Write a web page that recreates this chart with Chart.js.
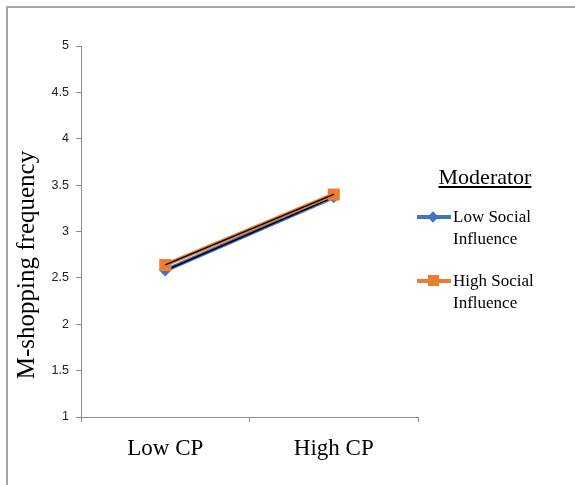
<!DOCTYPE html>
<html>
<head>
<meta charset="utf-8">
<script src="https://cdn.jsdelivr.net/npm/chart.js@4.4.1/dist/chart.umd.min.js"></script>
<style>
  html, body { margin: 0; padding: 0; background: #fff; }
  #wrap { position: relative; width: 575px; height: 485px; overflow: hidden; }
  #frame { position: absolute; left: 6px; top: 6px; width: 600px; height: 500px;
           border-top: 2px solid #a6a6a6; border-left: 2px solid #a6a6a6; }
  #chart { position: absolute; left: 0; top: 0; }
  #legend { position: absolute; left: 415px; top: 164px; width: 160px;
            font-family: "Liberation Serif", "Times New Roman", serif; color: #000; }
  #legend .title { font-size: 22px; text-decoration: underline; text-align: center;
                   width: 140px; margin-left: 0; }
  #legend .swatch { position: absolute; left: 2px; width: 34px; height: 4px; top: 9px; }
  #legend .mark { position: absolute; }
  #legend .txt { position: absolute; left: 38px; top: 0; font-size: 17px; line-height: 22px; }
</style>
</head>
<body>
<div id="wrap">
  <div id="frame"></div>
  <canvas id="chart" width="575" height="485"></canvas>
  <div id="legend"></div>
</div>
<script>
const categories = ["Low CP", "High CP"];
const lowSocial = [2.58, 3.37];
const highSocial = [2.64, 3.40];
const seriesNames = [["Low Social", "Influence"], ["High Social", "Influence"]];
const legendTitle = "Moderator";
const yTitle = "M-shopping frequency";

const blue = "#4472C4";
const orange = "#ED7D31";

// legend in html
const legend = document.getElementById("legend");
legend.innerHTML = '<div class="title">' + legendTitle + '</div>';
const tops = [42, 106];
[[blue, "diamond"], [orange, "square"]].forEach(function (s, i) {
  const item = document.createElement("div");
  item.style.position = "absolute";
  item.style.top = tops[i] + "px";
  item.style.left = "0px";
  item.style.width = "160px";
  let markStyle = "background:" + s[0] + ";";
  if (s[1] === "diamond") markStyle += "transform:rotate(45deg);width:8px;height:8px;left:14px;top:7px;";
  else markStyle += "width:11px;height:11px;left:13px;top:5px;";
  item.innerHTML = '<div class="swatch" style="background:' + s[0] + '"></div>' +
    '<div class="mark" style="' + markStyle + '"></div>' +
    '<div class="txt">' + seriesNames[i].join("<br>") + '</div>';
  legend.appendChild(item);
});

const yTitlePlugin = {
  id: "yTitle",
  afterDraw(chart) {
    const ctx = chart.ctx;
    ctx.save();
    ctx.translate(27, 265);
    ctx.rotate(-Math.PI / 2);
    ctx.font = '25px "Liberation Serif", serif';
    ctx.fillStyle = "#000";
    ctx.textAlign = "center";
    ctx.textBaseline = "middle";
    ctx.fillText(yTitle, 0, 0);
    ctx.restore();
  }
};

new Chart(document.getElementById("chart"), {
  type: "line",
  data: {
    labels: categories,
    datasets: [
      { data: lowSocial, borderColor: blue, backgroundColor: blue, borderWidth: 4,
        pointStyle: "rectRot", pointRadius: 6, pointBorderWidth: 0, order: 4 },
      { data: lowSocial, borderColor: "#000", borderWidth: 1.5, pointRadius: 0, order: 3 },
      { data: highSocial, borderColor: orange, backgroundColor: orange, borderWidth: 4,
        pointStyle: "rect", pointRadius: 8.5, pointBorderWidth: 0, order: 2 },
      { data: highSocial, borderColor: "#000", borderWidth: 1.5, pointRadius: 0, order: 1 }
    ]
  },
  options: {
    responsive: false,
    animation: false,
    layout: { padding: { left: 0, right: 157, top: 46, bottom: 0 } },
    plugins: { legend: { display: false }, tooltip: { enabled: false } },
    scales: {
      x: {
        offset: true,
        afterFit: s => { s.height = 68; },
        border: { color: "#8c8c8c", width: 1 },
        grid: { drawOnChartArea: false, offset: true, tickLength: 5, color: "#8c8c8c" },
        ticks: { color: "#000", padding: 13, font: { family: "Liberation Serif", size: 23 } }
      },
      y: {
        min: 1, max: 5,
        afterFit: s => { s.width = 81; },
        border: { color: "#8c8c8c", width: 1 },
        grid: { drawOnChartArea: false, tickLength: 5, color: "#8c8c8c" },
        ticks: { stepSize: 0.5, color: "#222", padding: 7,
                 font: { family: "Liberation Sans", size: 12.5 },
                 callback: v => String(v) }
      }
    }
  },
  plugins: [yTitlePlugin]
});
</script>
</body>
</html>
